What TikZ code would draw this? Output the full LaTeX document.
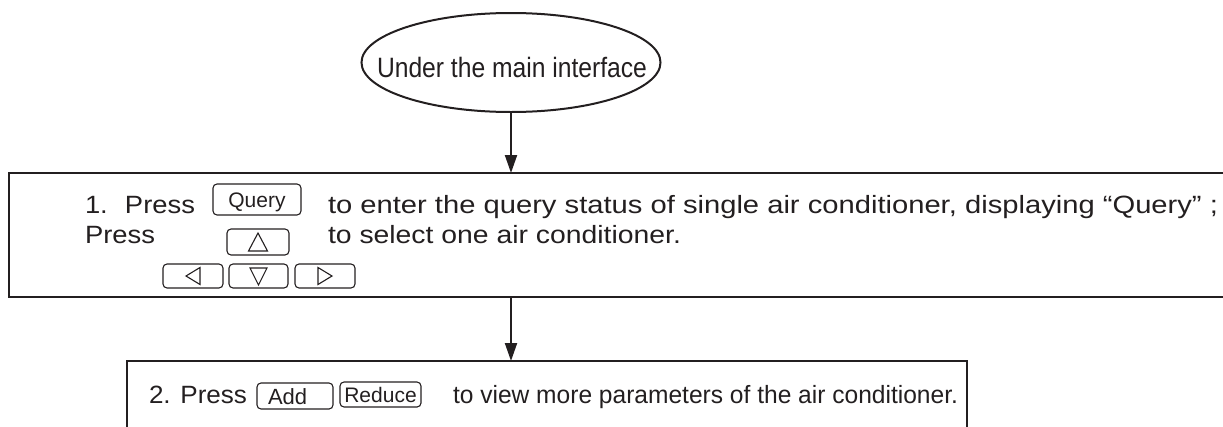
\documentclass[tikz,border=0pt]{standalone}
\usepackage{fontspec}
\setmainfont{Liberation Sans}
\usetikzlibrary{shapes.geometric,arrows.meta}
\definecolor{ink}{RGB}{35,31,32}
\newcommand{\fitw}[2]{\resizebox{#1pt}{\height}{#2}}
\begin{document}
\begin{tikzpicture}[x=1pt,y=-1pt,
  every node/.style={inner sep=0pt,outer sep=0pt,text=ink},
  txt/.style={anchor=base west,font=\fontsize{25}{30}\selectfont},
  btn/.style={draw=ink,line width=1.1pt,rounded corners=4pt,font=\fontsize{21}{25}\selectfont,text height=15pt,text depth=0pt},
  frame/.style={draw=ink,line width=2.8pt},
  flow/.style={draw=ink,line width=2pt,-{Triangle[length=18pt,width=12pt]}},
  tri/.style={draw=ink,line width=1.1pt,line join=miter}]
\useasboundingbox (0,0) rectangle (1223,426);
\clip (0,0) rectangle (1223,426);
% start ellipse
\node[ellipse,draw=ink,line width=2pt,minimum width=299pt,minimum height=99pt] (start) at (511,62.5) {};
\node[anchor=base west,font=\fontsize{28}{34}\selectfont] (startlbl) at (377,77) {\fitw{270}{Under the main interface}};
% box 1
\node[frame,minimum width=1231pt,minimum height=124pt] (b1) at (624.5,235) {};
\node[txt] (t1a) at (85,213) {\fitw{110}{1.\hspace{15.7pt}Press}};
\node[btn,minimum width=88pt,minimum height=31pt] (query) at (257,199.5) {Query};
\node[txt] (t1b) at (328,213) {\fitw{890}{to enter the query status of single air conditioner, displaying\ “Query”\ ;}};
\node[txt] (t1c) at (85,243) {\fitw{70}{Press}};
\node[txt] (t1d) at (328,243) {\fitw{353}{to select one air conditioner.}};
\node[btn,minimum width=62pt,minimum height=26pt] (up) at (258,242) {};
\node[btn,minimum width=60pt,minimum height=24pt] (left) at (193,276) {};
\node[btn,minimum width=59pt,minimum height=24pt] (down) at (258.5,276) {};
\node[btn,minimum width=60pt,minimum height=24pt] (right) at (325,276) {};
\draw[tri] ([yshift=9pt]up.center) -- ([xshift=-9.5pt,yshift=-9pt]up.center) -- ([xshift=9.5pt,yshift=-9pt]up.center) -- cycle;
\draw[tri] ([yshift=-9pt]down.center) -- ([xshift=-8.5pt,yshift=8pt]down.center) -- ([xshift=8.5pt,yshift=8pt]down.center) -- cycle;
\draw[tri] ([xshift=-7pt]left.center) -- ([xshift=7pt,yshift=8.5pt]left.center) -- ([xshift=7pt,yshift=-8.5pt]left.center) -- cycle;
\draw[tri] ([xshift=7pt]right.center) -- ([xshift=-7pt,yshift=8.5pt]right.center) -- ([xshift=-7pt,yshift=-8.5pt]right.center) -- cycle;
% box 2
\node[frame,line width=2.5pt,minimum width=840pt,minimum height=100pt] (b2) at (547,411) {};
\node[txt] (t2a) at (149,403) {\fitw{98}{2. Press}};
\node[btn,font=\fontsize{22}{26}\selectfont,text height=16pt,minimum width=76pt,minimum height=26pt] (add) at (295,396) {\makebox[54pt][l]{Add}};
\node[btn,minimum width=81pt,minimum height=25pt] (reduce) at (380.5,394.5) {Reduce};
\node[txt] (t2b) at (453,403) {\fitw{505}{to view more parameters of the air conditioner.}};
% connectors
\draw[flow] (start.south) -- (start.south |- b1.north);
\draw[flow] (b1.south -| start.south) -- (b2.north -| start.south);
\end{tikzpicture}
\end{document}
